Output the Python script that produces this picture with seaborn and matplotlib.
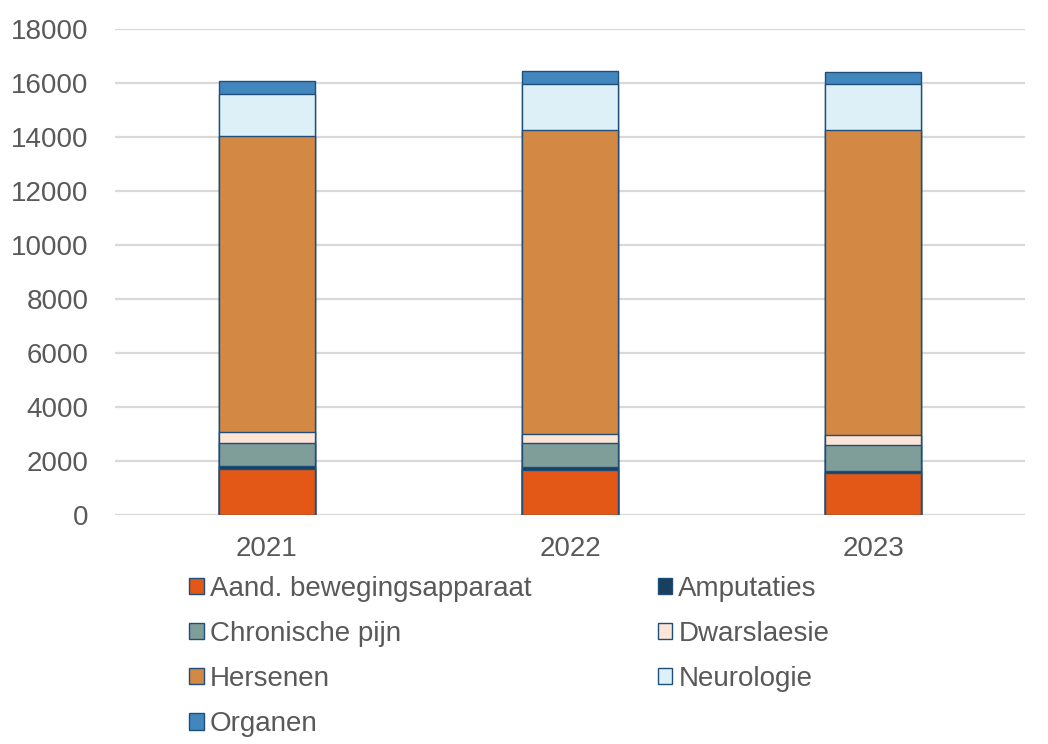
import matplotlib
matplotlib.use("Agg")
import matplotlib.pyplot as plt
from matplotlib.patches import Patch
import seaborn as sns
import pandas as pd
import numpy as np

years = ["2021", "2022", "2023"]
series = ["Aand. bewegingsapparaat", "Amputaties", "Chronische pijn", "Dwarslaesie",
          "Hersenen", "Neurologie", "Organen"]
aand = [1710, 1660, 1570]
amputaties = [100, 115, 50]
chronische_pijn = [875, 910, 980]
dwarslaesie = [375, 325, 370]
hersenen = [10990, 11270, 11300]
neurologie = [1560, 1680, 1690]
organen = [455, 490, 445]
colors = ["#E35817", "#17405F", "#7F9E9A", "#FCE4D6", "#D38843", "#DDF0F8", "#4286BE"]

values = [aand, amputaties, chronische_pijn, dwarslaesie, hersenen, neurologie, organen]
cum = np.cumsum(np.array(values, dtype=float), axis=0)

sns.set_theme(style="white")
plt.rcParams['font.family'] = ['Liberation Sans', 'DejaVu Sans']

fig = plt.figure(figsize=(10.48, 7.44), dpi=100)
ax = fig.add_axes([0.1097, 0.3078, 0.8683, 0.653])

for i in range(len(series) - 1, -1, -1):
    df = pd.DataFrame({"year": years, "value": cum[i]})
    sns.barplot(data=df, x="year", y="value", color=colors[i], width=0.317,
                edgecolor="#1F4E79", linewidth=1.0, saturation=1, ax=ax, zorder=3)

ax.set_ylim(0, 18000)
ax.set_xlim(-0.5, 2.5)
ax.set_yticks(range(0, 18001, 2000))
ax.yaxis.grid(True, color="#D9D9D9", linewidth=1.6, zorder=0)
ax.set_axisbelow(True)
for s in ax.spines.values():
    s.set_visible(False)
ax.set_xlabel("")
ax.set_ylabel("")
ax.tick_params(axis="both", labelsize=20, colors="#595959", length=0)
ax.tick_params(axis="y", pad=19)
ax.tick_params(axis="x", pad=15)

order = [0, 2, 4, 6, 1, 3, 5]
handles = [Patch(facecolor=colors[i], edgecolor="#1F4E79", linewidth=1.0) for i in order]
labels = [series[i] for i in order]
fig.legend(handles, labels, ncol=2, loc="upper left", bbox_to_anchor=(0.170, 0.241),
           frameon=False, fontsize=20, handlelength=0.52, handleheight=0.52,
           handletextpad=0.22, labelspacing=0.69, columnspacing=4.55,
           labelcolor="#595959", borderaxespad=0)

fig.savefig("out.png", dpi=100)
